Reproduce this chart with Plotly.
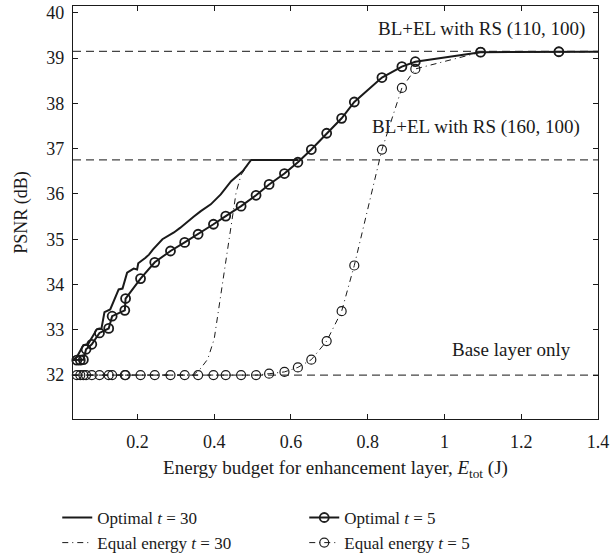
import plotly.graph_objects as go

FONT = 'Liberation Serif'
INK = '#1a1a1a'

# shared energy grid (J) used by the t = 5 runs
x_t5 = [0.030, 0.042, 0.051, 0.059, 0.066, 0.081, 0.101, 0.125, 0.134, 0.167,
        0.169, 0.208, 0.245, 0.286, 0.323, 0.358, 0.398, 0.430, 0.470, 0.509,
        0.543, 0.583, 0.618, 0.653, 0.693, 0.732, 0.765, 0.837, 0.889, 0.924,
        1.094, 1.298, 1.400]
optimal_t5 = [32.33, 32.33, 32.33, 32.34, 32.57, 32.68, 32.93, 33.03, 33.30, 33.43,
              33.69, 34.13, 34.49, 34.74, 34.93, 35.11, 35.33, 35.51, 35.73, 35.97,
              36.21, 36.45, 36.70, 36.98, 37.34, 37.67, 38.03, 38.57, 38.81, 38.92,
              39.13, 39.14, 39.14]
equal_t5 = [32.00, 32.00, 32.00, 32.00, 32.00, 32.00, 32.00, 32.00, 32.00, 32.00,
            32.00, 32.00, 32.00, 32.00, 32.00, 32.00, 32.00, 32.00, 32.00, 32.00,
            32.03, 32.07, 32.17, 32.34, 32.75, 33.41, 34.42, 36.98, 38.34, 38.76,
            39.13, 39.14, 39.14]
# no markers drawn for these two at 1.4
marker_count_t5 = 32

x_opt30 = [0.030, 0.042, 0.059, 0.071, 0.094, 0.106, 0.114, 0.129, 0.151, 0.161,
           0.173, 0.190, 0.199, 0.202, 0.221, 0.230, 0.240, 0.265, 0.295, 0.311,
           0.347, 0.365, 0.391, 0.417, 0.444, 0.474, 0.496, 0.618]
optimal_t30 = [32.33, 32.40, 32.66, 32.68, 33.01, 33.02, 33.39, 33.45, 33.89, 33.91,
               34.26, 34.35, 34.33, 34.47, 34.59, 34.66, 34.77, 35.00, 35.15, 35.25,
               35.50, 35.62, 35.77, 35.99, 36.28, 36.50, 36.75, 36.75]

x_eq30 = [0.030, 0.345, 0.362, 0.383, 0.400, 0.420, 0.439, 0.457, 0.470, 0.485, 0.496, 0.618]
equal_t30 = [32.00, 32.00, 32.12, 32.35, 32.80, 33.90, 35.00, 36.03, 36.42, 36.62, 36.75, 36.75]

ref_levels = [39.15, 36.75, 32.0]
ref_labels = ['BL+EL with RS (110, 100)', 'BL+EL with RS (160, 100)', 'Base layer only']
x_ticks = [0.2, 0.4, 0.6, 0.8, 1.0, 1.2, 1.4]
x_tick_text = ['0.2', '0.4', '0.6', '0.8', '1', '1.2', '1.4']
y_ticks = [32, 33, 34, 35, 36, 37, 38, 39, 40]

DASHDOT = '6px,4px,1px,4px'

fig = go.Figure()

# draw equal-energy curves first so the optimal ones sit on top
fig.add_trace(go.Scatter(
    x=x_eq30, y=equal_t30, mode='lines', name='Equal energy <i>t</i> = 30',
    line=dict(color=INK, width=1, dash=DASHDOT), legendrank=3, cliponaxis=False))
fig.add_trace(go.Scatter(
    x=x_t5, y=equal_t5, mode='lines+markers', name='Equal energy <i>t</i> = 5',
    line=dict(color=INK, width=1, dash=DASHDOT),
    marker=dict(symbol='circle-open', size=9, color=INK, line=dict(width=1.2)),
    legendrank=4, cliponaxis=False))
fig.add_trace(go.Scatter(
    x=x_opt30, y=optimal_t30, mode='lines', name='Optimal <i>t</i> = 30',
    line=dict(color=INK, width=2), legendrank=1, cliponaxis=False))
fig.add_trace(go.Scatter(
    x=x_t5, y=optimal_t5, mode='lines+markers', name='Optimal <i>t</i> = 5',
    line=dict(color=INK, width=2),
    marker=dict(symbol='circle-open', size=9, color=INK, line=dict(width=1.8)),
    legendrank=2, cliponaxis=False))

# hide the marker on the final (1.4) point of the t = 5 curves
for tr in fig.data:
    if tr.mode == 'lines+markers':
        tr.marker.opacity = [1] * marker_count_t5 + [0]

for lvl in ref_levels:
    fig.add_shape(type='line', xref='paper', x0=0, x1=1, yref='y', y0=lvl, y1=lvl,
                  line=dict(color='#444444', width=1.2, dash='8px,5px'), layer='below')

fig.add_annotation(x=1.372, y=39.64, text=ref_labels[0], showarrow=False,
                   xanchor='right', yanchor='middle', font=dict(size=19))
fig.add_annotation(x=0.806, y=37.47, text=ref_labels[1], showarrow=False,
                   xanchor='left', yanchor='middle', font=dict(size=19))
fig.add_annotation(x=1.335, y=32.56, text=ref_labels[2], showarrow=False,
                   xanchor='right', yanchor='middle', font=dict(size=19))

axis_common = dict(showline=True, linecolor=INK, linewidth=1.3, mirror='ticks',
                   ticks='inside', ticklen=5, tickcolor=INK, tickwidth=1.2,
                   showgrid=False, zeroline=False, automargin=False,
                   tickfont=dict(size=18, color=INK))

fig.update_layout(
    width=611, height=559,
    margin=dict(l=73, r=13, t=6, b=140, autoexpand=False),
    paper_bgcolor='white', plot_bgcolor='white',
    font=dict(family=FONT, size=18, color=INK),
    xaxis=dict(range=[0.032, 1.4], tickvals=x_ticks, ticktext=x_tick_text,
               ticklabelstandoff=6,
               title=dict(text='Energy budget for enhancement layer, <i>E</i><sub>tot</sub> (J)',
                          standoff=9, font=dict(size=19)),
               **axis_common),
    yaxis=dict(range=[31.03, 40.15], tickvals=y_ticks, ticklabelstandoff=4,
               title=dict(text='PSNR (dB)', standoff=13, font=dict(size=18)),
               **axis_common),
    showlegend=True,
    legend=dict(orientation='h', x=-0.03, xanchor='left', y=-0.196, yanchor='top',
                entrywidth=202, entrywidthmode='pixels', tracegroupgap=0,
                font=dict(size=17), itemwidth=30, bgcolor='rgba(0,0,0,0)'),
)

fig.write_html('out.html', config={'displayModeBar': False},
               post_script="document.body.style.margin='0';")
